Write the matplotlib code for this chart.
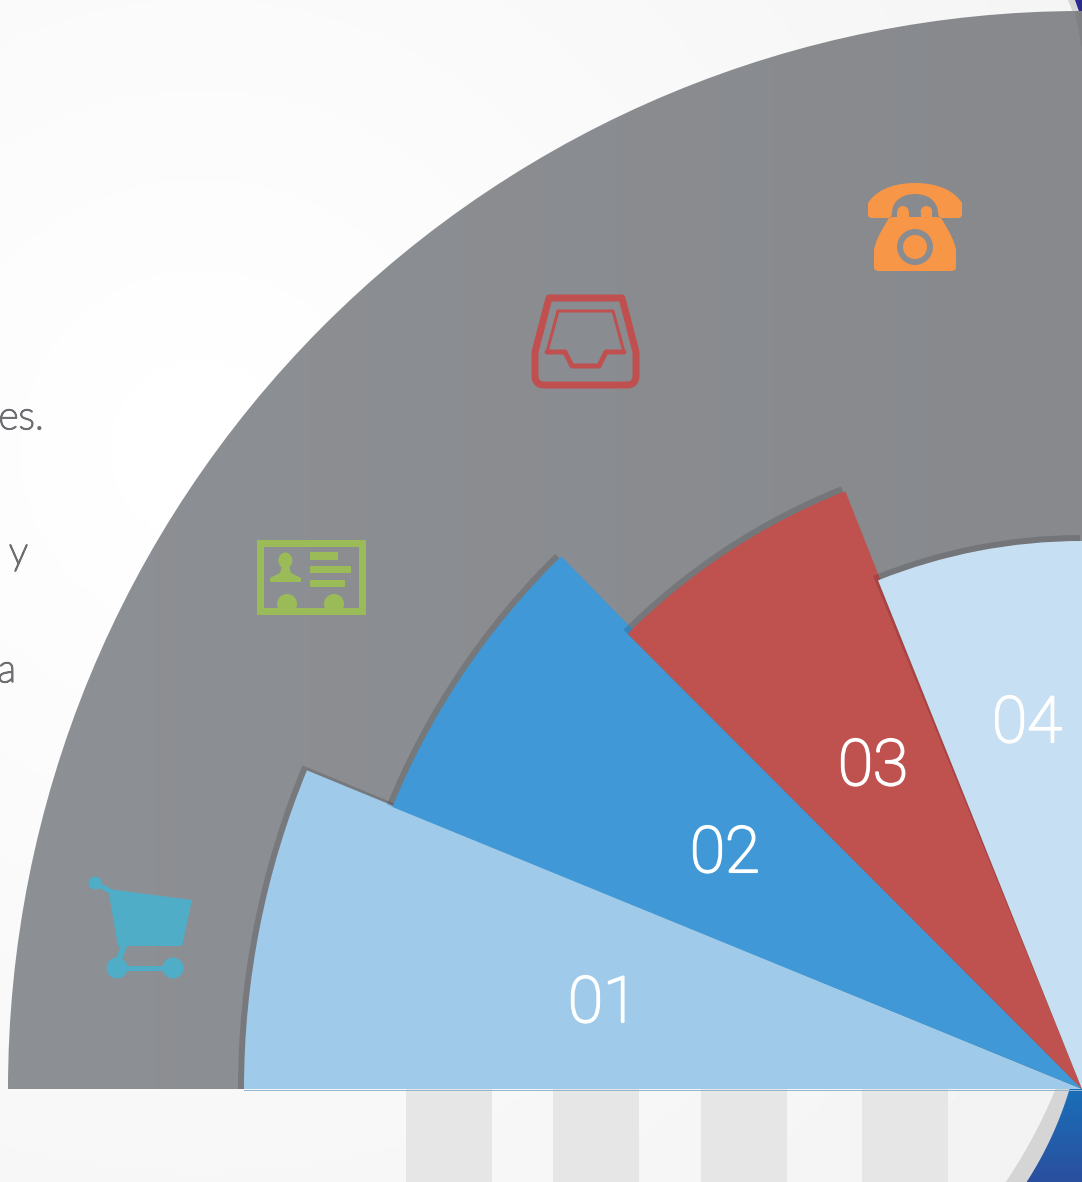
import numpy as np
import matplotlib
matplotlib.use('Agg')
import matplotlib.pyplot as plt
import matplotlib.patheffects as pe
from matplotlib.patches import Wedge, Circle, Rectangle, Polygon, PathPatch, Ellipse
from matplotlib.path import Path

# chart values (radius and angles of each sector, in px / deg)
labels = ['01', '02', '03', '04']
sector_radius = [838, 745, 643, 548]
sector_start = [0, 22.25, 45.05, 68.15]
sector_span = [22.35, 23.4, 23.35, 21.85]
sector_colors = ['#9fcaea', '#4098d7', '#bf514f', '#c7dff3']
label_x = [603, 725, 873, 1027]
label_y = [1022, 872, 785, 742]
stripe_left = [406, 553, 701, 862]
stripe_width = [86, 86, 86, 86]
side_text = ['es.', 'r y', 'a']
side_text_x = [44, 28, 16]
side_text_y = [429, 564, 682]

cx, cy = 1082, 1089
px = 0.72  # one px in points at dpi 100

fig = plt.figure(figsize=(10.82, 11.82), dpi=100)
ax = fig.add_axes([0, 0, 1, 1])
ax.axis('off')

# paper background
X, Y = np.meshgrid(np.linspace(0, 1082, 300), np.linspace(0, 1182, 300))
d = np.hypot(X - 200, Y - 450) / 1000
ax.imshow(255 - 11 * np.clip(d, 0, 1), extent=(0, 1082, 1182, 0), aspect='auto',
          cmap='gray', vmin=0, vmax=255, zorder=1)

for left, w in zip(stripe_left, stripe_width):
    ax.add_patch(Rectangle((left, 1089), w, 93, fc='#e6e6e6', ec='none', zorder=2))

# big blue disc behind, only seen in the two right corners
ys = np.linspace(1085, 1182, 60)
light_edge = 574 + np.sqrt(520 ** 2 - (ys - 891) ** 2)
blue_edge = 720 + np.sqrt(365 ** 2 - (ys - 984) ** 2)
ax.fill_betweenx(ys, light_edge, 1082, color='#d6d5d5', lw=0, zorder=3)
blue_low = np.stack([np.linspace(26, 42, 100), np.linspace(111, 79, 100), np.linspace(184, 159, 100)], axis=1)[:, None, :] / 255
img = ax.imshow(blue_low, extent=(1000, 1082, 1182, 1089), aspect='auto', zorder=4)
img.set_clip_path(Polygon(np.r_[np.c_[blue_edge, ys], [[1082, 1182], [1082, 1085]]], transform=ax.transData))
ax.add_patch(Polygon([(1068, 0), (1082, 0), (1082, 20), (1076, 20)], fc='#d6d5d5', ec='none', zorder=3))
ax.add_patch(Polygon([(1075, 0), (1082, 0), (1082, 20)], fc='#2a2a90', ec='none', zorder=4))

# grey band
shade = np.stack([np.linspace(141, 135, 300), np.linspace(144, 137, 300), np.linspace(148, 141, 300)], axis=1)[None, :, :] / 255
band = ax.imshow(shade, extent=(0, 1082, 1089, 0), aspect='auto', zorder=5)
band.set_clip_path(Ellipse((cx, cy), 2 * 1074, 2 * 1078, transform=ax.transData))
ax.add_patch(Polygon([(1075, 11), (1082, 11), (1082, 50)], fc='black', alpha=0.06, ec='none', zorder=5))

# sectors, each one with a soft shadow rim over what lies under it
edges0 = 180 + np.array(sector_start)
edges1 = edges0 + np.array(sector_span)
for i in range(len(labels)):
    z = 6 + 2 * i
    rim_start = edges0[i] - (0.3 if i == 3 else 0)
    rim_end = edges1[i] + (0.2 if i == 0 else -0.2)
    ax.add_patch(Wedge((cx, cy), sector_radius[i] + 6, rim_start, rim_end,
                       fc='black', alpha=0.14, ec='none', zorder=z))
    ax.add_patch(Wedge((cx, cy), sector_radius[i], edges0[i], edges1[i],
                       fc=sector_colors[i], ec='none', zorder=z + 1))
ax.plot([244, 1082], [1089.5, 1089.5], color='#93b6d2', lw=1 * px, zorder=14)

for i in range(len(labels)):
    ax.text(label_x[i], label_y[i], labels[i], color='white', fontsize=46, family='Roboto',
            weight='light', ha='center', va='baseline', zorder=20,
            path_effects=[pe.withStroke(linewidth=1.5, foreground='white')])

for s, x, y in zip(side_text, side_text_x, side_text_y):
    ax.text(x, y, s, color='#6d6e71', fontsize=28, family='Lato', weight='light',
            ha='right', va='baseline', zorder=20,
            path_effects=[pe.withStroke(linewidth=1.2, foreground='#6d6e71')])

# cart icon
teal = '#4fadc8'
ax.add_patch(Polygon([(108, 889), (192, 900), (182, 946), (118, 946)], fc=teal, ec='none', zorder=20))
ax.add_patch(Circle((95, 883), 6.5, fc=teal, ec='none', zorder=20))
ax.plot([95, 110], [883, 891], color=teal, lw=5 * px, zorder=20)
ax.plot([124, 118], [946, 962], color=teal, lw=6 * px, zorder=20)
ax.plot([117, 173], [968, 968], color=teal, lw=5 * px, zorder=20)
ax.add_patch(Circle((117, 968), 10.5, fc=teal, ec='none', zorder=20))
ax.add_patch(Circle((173, 968), 10.5, fc=teal, ec='none', zorder=20))

# card icon
green = '#9bbb59'
ax.add_patch(Rectangle((259.5, 542.5), 102, 68, fc='none', ec=green, lw=7 * px, joinstyle='miter', zorder=20))
for x0, y0, x1, y1 in [(310, 552, 338, 560), (310, 566, 351, 573), (310, 580, 345, 587)]:
    ax.add_patch(Rectangle((x0, y0), x1 - x0, y1 - y0, fc=green, ec='none', zorder=20))
ax.add_patch(Ellipse((285.3, 560.5), 14, 16, fc=green, ec='none', zorder=20))
ax.add_patch(Polygon([(270, 582), (270, 578), (280, 573), (282, 566), (289, 566), (291, 573), (301, 578), (301, 582)],
                     fc=green, ec='none', zorder=20))
for x0 in [287, 334]:
    ax.add_patch(Circle((x0, 604), 10, fc=green, ec='none', zorder=20))

# tray icon
red = '#c0504f'
tray = Path([(549, 298), (622, 298), (636, 352), (636, 376), (636, 385), (627, 385), (544, 385), (535, 385),
             (535, 376), (535, 352), (549, 298)],
            [Path.MOVETO, Path.LINETO, Path.LINETO, Path.LINETO, Path.CURVE3, Path.CURVE3, Path.LINETO,
             Path.CURVE3, Path.CURVE3, Path.LINETO, Path.CLOSEPOLY])
ax.add_patch(PathPatch(tray, fc='none', ec=red, lw=7 * px, joinstyle='round', zorder=20))
ax.plot([547, 558, 613, 624], [352, 311, 311, 352], color=red, lw=3 * px, solid_joinstyle='round', zorder=20)
ax.plot([547, 565, 572, 599, 606, 624], [352, 352, 366, 366, 352, 352], color=red, lw=5 * px,
        solid_joinstyle='round', solid_capstyle='round', zorder=20)

# phone icon
orange = '#f79646'
M, L, C3, C4 = Path.MOVETO, Path.LINETO, Path.CURVE3, Path.CURVE4
handset = Path([(872, 218), (888, 218), (892, 218), (892, 212), (893, 200), (903, 194), (915, 194),
                (927, 194), (937, 200), (938, 212), (938, 218), (942, 218), (958, 218), (962, 218), (962, 214),
                (962, 203), (955, 192), (940, 183), (915, 183), (890, 183), (875, 192), (868, 203),
                (868, 214), (868, 218), (872, 218)],
               [M, L, C3, C3, C4, C4, C4, C4, C4, C4, C3, C3, L, C3, C3, L, C4, C4, C4, C4, C4, C4, L, C3, C3])
ax.add_patch(PathPatch(handset, fc=orange, ec='none', zorder=20))
body = Path([(893, 217), (937, 217), (941, 218), (955, 240), (956, 250), (956, 267), (956, 271), (951, 271), (879, 271),
             (874, 271), (874, 267), (874, 250), (875, 240), (889, 218), (893, 217)],
            [M, L, L, C3, C3, L, C3, C3, L, C3, C3, L, C3, C3, L])
ax.add_patch(PathPatch(body, fc=orange, ec='none', zorder=20))
for x0 in [903, 926.4]:
    ax.add_patch(Circle((x0, 211.7), 5.7, fc=orange, ec='none', zorder=20))
    ax.add_patch(Rectangle((x0 - 5.7, 211.7), 11.4, 7, fc=orange, ec='none', zorder=20))
ax.add_patch(Circle((915, 247), 18, fc='#898c90', ec='none', zorder=21))
ax.add_patch(Circle((915, 247), 12, fc=orange, ec='none', zorder=22))

ax.set_xlim(0, 1082)
ax.set_ylim(1182, 0)
fig.savefig('out.png', dpi=100)
